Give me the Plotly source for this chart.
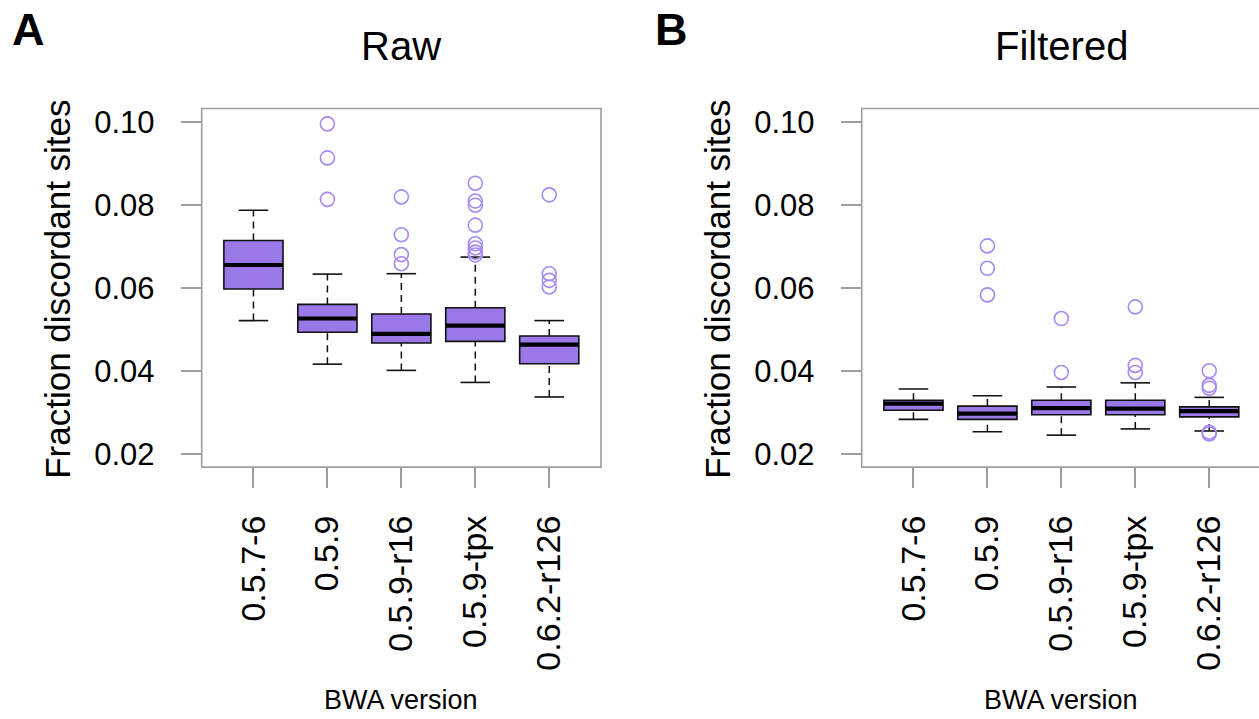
import plotly.graph_objects as go

versions = ["0.5.7-6", "0.5.9", "0.5.9-r16", "0.5.9-tpx", "0.6.2-r126"]

# Raw panel statistics
raw_lower = [0.0521, 0.0416, 0.0401, 0.0372, 0.0337]
raw_q1 = [0.0597, 0.0493, 0.0467, 0.0471, 0.0417]
raw_median = [0.0655, 0.0526, 0.0489, 0.0509, 0.0463]
raw_q3 = [0.0714, 0.0560, 0.0537, 0.0552, 0.0484]
raw_upper = [0.0787, 0.0633, 0.0634, 0.0674, 0.0521]
raw_outliers = [
    [],
    [0.0995, 0.0913, 0.0813],
    [0.0819, 0.0728, 0.0680, 0.0658],
    [0.0852, 0.0809, 0.0799, 0.0751, 0.0706, 0.0696, 0.0686, 0.0679],
    [0.0824, 0.0634, 0.0618, 0.0602],
]

# Filtered panel statistics
filt_lower = [0.0283, 0.0253, 0.0245, 0.0260, 0.0255]
filt_q1 = [0.0305, 0.0283, 0.0294, 0.0294, 0.0289]
filt_median = [0.0321, 0.0297, 0.0310, 0.0309, 0.0303]
filt_q3 = [0.0329, 0.0315, 0.0329, 0.0329, 0.0313]
filt_upper = [0.0356, 0.0340, 0.0361, 0.0371, 0.0336]
filt_outliers = [
    [],
    [0.0701, 0.0647, 0.0583],
    [0.0526, 0.0396],
    [0.0554, 0.0413, 0.0396],
    [0.0400, 0.0365, 0.0358, 0.0252, 0.0248],
]

y_ticks = [0.02, 0.04, 0.06, 0.08, 0.10]

FONT = "Liberation Sans, Arial, Helvetica, sans-serif"
BOX_FILL = "#9b78e8"
OUT_COLOR = "#a889f2"
FRAME = "#9e9e9e"
BOX_W = 0.8
CAP_W = 0.4

fig = go.Figure()


def add_panel(xa, ya, lower, q1, med, q3, upper, outliers):
    pos = list(range(1, len(versions) + 1))
    fig.add_trace(go.Bar(
        x=pos, y=[b - a for a, b in zip(q1, q3)], base=q1, width=BOX_W,
        marker=dict(color=BOX_FILL, line=dict(color="#111111", width=1.6)),
        xaxis=xa, yaxis=ya, showlegend=False, hoverinfo="skip"))
    wx, wy = [], []
    for p, a, b, c, d in zip(pos, lower, q1, q3, upper):
        wx += [p, p, None, p, p, None]
        wy += [a, b, None, c, d, None]
    fig.add_trace(go.Scatter(
        x=wx, y=wy, mode="lines", line=dict(color="#111111", width=1.5, dash="7px,5px"),
        xaxis=xa, yaxis=ya, showlegend=False, hoverinfo="skip"))
    cx, cy = [], []
    for p, a, d in zip(pos, lower, upper):
        cx += [p - CAP_W / 2, p + CAP_W / 2, None, p - CAP_W / 2, p + CAP_W / 2, None]
        cy += [a, a, None, d, d, None]
    fig.add_trace(go.Scatter(
        x=cx, y=cy, mode="lines", line=dict(color="#111111", width=1.6),
        xaxis=xa, yaxis=ya, showlegend=False, hoverinfo="skip"))
    mx, my = [], []
    for p, m in zip(pos, med):
        mx += [p - BOX_W / 2, p + BOX_W / 2, None]
        my += [m, m, None]
    fig.add_trace(go.Scatter(
        x=mx, y=my, mode="lines", line=dict(color="#000000", width=4.2),
        xaxis=xa, yaxis=ya, showlegend=False, hoverinfo="skip"))
    ox, oy = [], []
    for p, outs in zip(pos, outliers):
        for v in outs:
            ox.append(p)
            oy.append(v)
    fig.add_trace(go.Scatter(
        x=ox, y=oy, mode="markers",
        marker=dict(symbol="circle-open", size=14, color=OUT_COLOR, line=dict(width=1.6)),
        xaxis=xa, yaxis=ya, showlegend=False, hoverinfo="skip"))


add_panel("x", "y", raw_lower, raw_q1, raw_median, raw_q3, raw_upper, raw_outliers)
add_panel("x2", "y2", filt_lower, filt_q1, filt_median, filt_q3, filt_upper, filt_outliers)

W, H = 1259, 719
xA = [201.7 / W, 601.0 / W]
xB = [861.7 / W, 1.0]
ydom = [(H - 468.3) / H, (H - 105.7) / H]
px_per_unit = (601.0 - 201.7) / 5.4
xB_end = 0.3 + (W - 861.7) / px_per_unit

xaxis_common = dict(
    tickmode="array", tickvals=list(range(1, 6)), ticktext=versions,
    tickangle=-90, ticks="outside", ticklen=20, tickwidth=1.5, tickcolor=FRAME,
    showline=False, showgrid=False, zeroline=False,
    tickfont=dict(family=FONT, size=34, color="#000000"),
    ticklabelstandoff=14,
)
yaxis_common = dict(
    range=[0.0168, 0.1032], tickmode="array", tickvals=y_ticks,
    ticktext=[f"{v:.2f}" for v in y_ticks],
    ticks="outside", ticklen=20, tickwidth=1.5, tickcolor=FRAME,
    showline=False, showgrid=False, zeroline=False,
    tickfont=dict(family=FONT, size=31, color="#000000"),
    ticklabelstandoff=20, domain=ydom,
)

ann_font = lambda s: dict(family=FONT, size=s, color="#000000")

fig.update_layout(
    width=W, height=H, margin=dict(l=0, r=0, t=0, b=0),
    paper_bgcolor="white", plot_bgcolor="white",
    xaxis=dict(domain=xA, range=[0.3, 5.7], anchor="y", **xaxis_common),
    xaxis2=dict(domain=xB, range=[0.3, xB_end], anchor="y2", **xaxis_common),
    yaxis=dict(anchor="x", **yaxis_common),
    yaxis2=dict(anchor="x2", **yaxis_common),
    barmode="overlay",
    shapes=[
        dict(type="rect", xref="x domain", yref="y domain", x0=0, x1=1, y0=0, y1=1,
             line=dict(color=FRAME, width=1.6), layer="above"),
        dict(type="rect", xref="x2 domain", yref="y2 domain", x0=0,
             x1=(1261.0 - 861.7) / (W - 861.7), y0=0, y1=1,
             line=dict(color=FRAME, width=1.6), layer="above"),
    ],
    annotations=[
        dict(text="Raw", xref="paper", yref="paper", x=(201.7 + 601) / 2 / W, y=(H - 42) / H,
             showarrow=False, font=ann_font(40), xanchor="center", yanchor="middle"),
        dict(text="Filtered", xref="paper", yref="paper", x=(861.7 + 1261) / 2 / W, y=(H - 42) / H,
             showarrow=False, font=ann_font(40), xanchor="center", yanchor="middle"),
        dict(text="<b>A</b>", xref="paper", yref="paper", x=10 / W, y=(H - 26) / H,
             showarrow=False, font=ann_font(45), xanchor="left", yanchor="middle"),
        dict(text="<b>B</b>", xref="paper", yref="paper", x=653 / W, y=(H - 26) / H,
             showarrow=False, font=ann_font(45), xanchor="left", yanchor="middle"),
        dict(text="Fraction discordant sites", xref="paper", yref="paper", x=58 / W,
             y=(H - 289) / H, textangle=-90, showarrow=False, font=ann_font(35),
             xanchor="center", yanchor="middle"),
        dict(text="Fraction discordant sites", xref="paper", yref="paper", x=718 / W,
             y=(H - 289) / H, textangle=-90, showarrow=False, font=ann_font(35),
             xanchor="center", yanchor="middle"),
        dict(text="BWA version", xref="paper", yref="paper", x=(201.7 + 601) / 2 / W,
             y=(H - 704) / H, showarrow=False, font=ann_font(27),
             xanchor="center", yanchor="middle"),
        dict(text="BWA version", xref="paper", yref="paper", x=(861.7 + 1261) / 2 / W,
             y=(H - 704) / H, showarrow=False, font=ann_font(27),
             xanchor="center", yanchor="middle"),
    ],
)

fig.write_html("out.html")
